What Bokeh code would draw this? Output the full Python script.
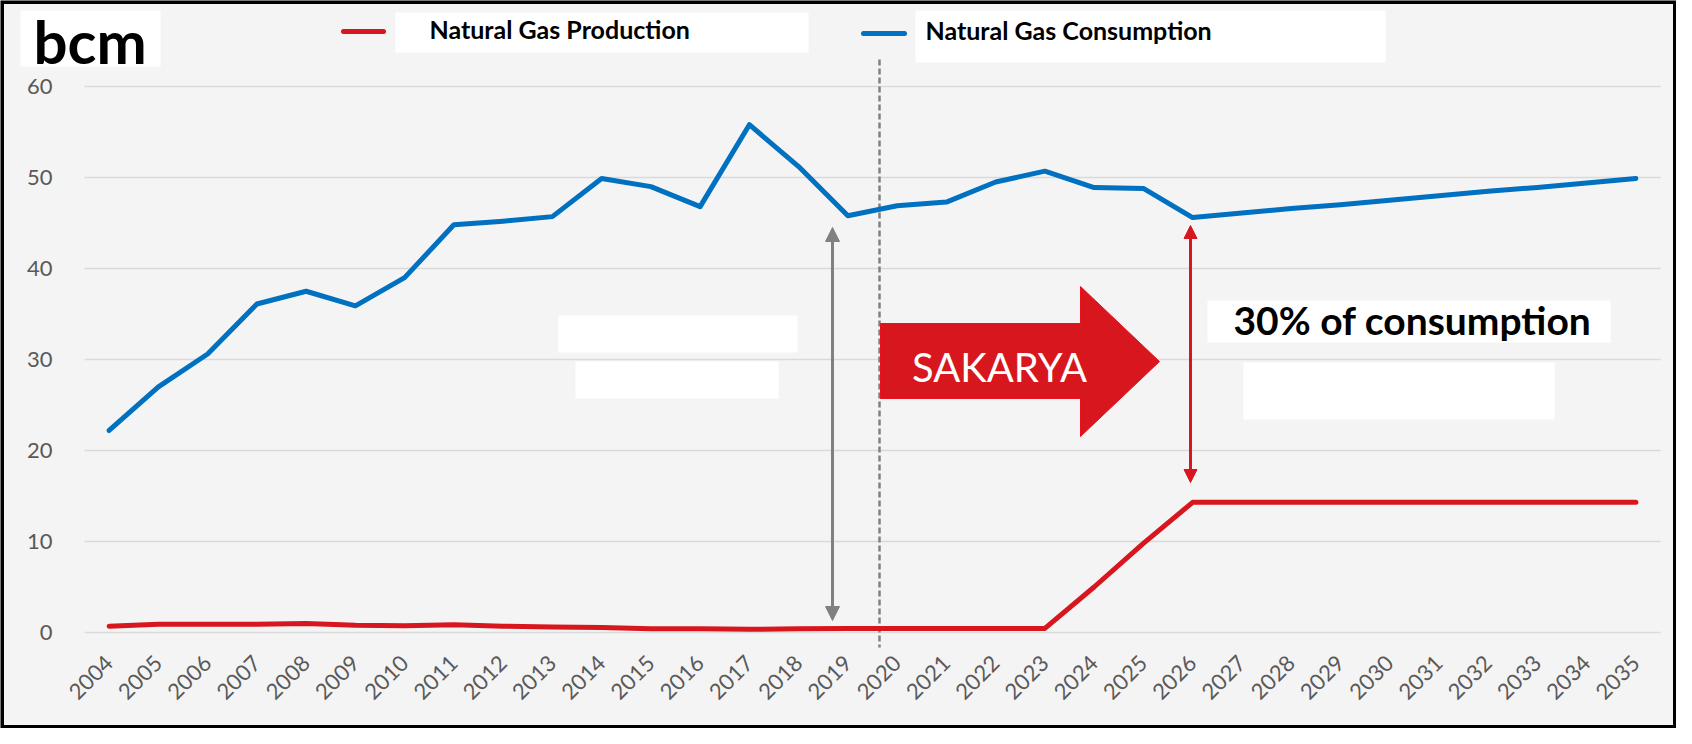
import math
from bokeh.plotting import figure
from bokeh.models import Range1d, FixedTicker, Label, Arrow, NormalHead, BoxAnnotation
from bokeh.embed import file_html
from bokeh.resources import INLINE

# ---------------- data ----------------
years = list(range(2004, 2036))
consumption = [22.2, 27.0, 30.6, 36.1, 37.5, 35.9, 39.0, 44.8, 45.2, 45.7,
               49.9, 49.0, 46.8, 55.8, 51.2, 45.8, 46.9, 47.3, 49.5, 50.7,
               48.9, 48.8, 45.6, 46.1, 46.6, 47.0, 47.5, 48.0, 48.5, 48.9,
               49.4, 49.9]
production = [0.7, 0.9, 0.9, 0.9, 1.0, 0.8, 0.75, 0.85, 0.7, 0.6,
              0.55, 0.4, 0.4, 0.35, 0.4, 0.45, 0.45, 0.45, 0.45, 0.45,
              5.0, 9.8, 14.3, 14.3, 14.3, 14.3, 14.3, 14.3, 14.3, 14.3,
              14.3, 14.3]
y_ticks = [0, 10, 20, 30, 40, 50, 60]
series_names = ["Natural Gas Production", "Natural Gas Consumption"]
unit_label = "bcm"
arrow_label = "SAKARYA"
share_label = "30% of consumption"

RED = "#D7161E"
BLUE = "#0070C0"
GRAY = "#808080"
BG = "#F4F4F4"
FONT = "Lato"

# reference-pixel -> data helpers (layout only)
def px_x(px):
    return 2003.5 + (px - 84) / 49.25

def px_y(py):
    return (632 - py) / 9.1

W, H = 1676, 728
p = figure(width=W, height=H, output_backend="svg", toolbar_location=None,
           title=None,
           x_range=Range1d(px_x(0), px_x(W)),
           y_range=Range1d(px_y(H), px_y(0)),
           min_border_left=0, min_border_right=0,
           min_border_top=0, min_border_bottom=0)
p.background_fill_color = BG
p.border_fill_color = BG
p.outline_line_color = None

# axes (drawn at the plot-area edges, inside the canvas)
p.xaxis.ticker = FixedTicker(ticks=years)
p.yaxis.ticker = FixedTicker(ticks=y_ticks)
p.xaxis.fixed_location = px_y(647)
p.yaxis.fixed_location = px_x(84)
for ax in (p.xaxis[0], p.yaxis[0]):
    ax.axis_line_color = None
    ax.major_tick_line_color = None
    ax.minor_tick_line_color = None
    ax.major_label_text_font = FONT
    ax.major_label_text_font_size = "22px"
    ax.major_label_text_color = "#595959"
p.xaxis.major_label_orientation = math.pi / 4
p.xaxis.major_label_standoff = 6
p.yaxis.major_label_standoff = 26
p.xgrid.grid_line_color = None
p.ygrid.grid_line_color = None

# horizontal gridlines spanning the plot area only
p.segment(x0=[px_x(84)] * len(y_ticks), y0=y_ticks,
          x1=[px_x(1660)] * len(y_ticks), y1=y_ticks,
          line_color="#D9D9D9", line_width=1.5)

# white "erased" blobs
blobs = [
    (20, 160, 10, 66),
    (395, 808, 12, 52),
    (915, 1385, 10, 62),
    (558, 797, 315, 352),
    (575, 778, 361, 398),
    (1207, 1610, 300, 342),
    (1243, 1554, 362, 419),
]
for l, r, t, b in blobs:
    p.add_layout(BoxAnnotation(left=px_x(l), right=px_x(r), top=px_y(t), bottom=px_y(b),
                               fill_color="white", fill_alpha=1.0, line_color=None,
                               level="underlay"))

# dashed divider
p.line([px_x(879), px_x(879)], [px_y(59), px_y(647)], line_color="#808080",
       line_width=2.5, line_dash="6 3")

# series
p.line(years, production, line_color=RED, line_width=5, line_join="round", line_cap="round")
p.line(years, consumption, line_color=BLUE, line_width=5, line_join="round", line_cap="round")

# SAKARYA block arrow
ax_ = [px_x(880), px_x(1080), px_x(1080), px_x(1159), px_x(1080), px_x(1080), px_x(880)]
ay_ = [px_y(323), px_y(323), px_y(286), px_y(361), px_y(436), px_y(398), px_y(398)]
p.patch(ax_, ay_, fill_color=RED, line_color="#E8121C", line_width=1)
p.add_layout(Label(x=px_x(999), y=px_y(366), text=arrow_label, text_font=FONT,
                   text_font_size="40px", text_color="white", text_align="center",
                   text_baseline="alphabetic"))

# double arrows
p.add_layout(Arrow(start=NormalHead(size=14, fill_color=GRAY, line_color=GRAY),
                   end=NormalHead(size=14, fill_color=GRAY, line_color=GRAY),
                   x_start=px_x(832), y_start=px_y(620), x_end=px_x(832), y_end=px_y(227),
                   line_color=GRAY, line_width=3))
p.add_layout(Arrow(start=NormalHead(size=13, fill_color=RED, line_color=RED),
                   end=NormalHead(size=13, fill_color=RED, line_color=RED),
                   x_start=px_x(1190), y_start=px_y(482), x_end=px_x(1190), y_end=px_y(225),
                   line_color=RED, line_width=3))

# 30% text
p.add_layout(Label(x=px_x(1233), y=px_y(319), text=share_label, text_font=FONT,
                   text_font_style="bold", text_font_size="39px", text_color="black",
                   text_baseline="alphabetic"))

# unit label
p.add_layout(Label(x=px_x(33), y=px_y(40), text=unit_label, text_font=FONT,
                   text_font_style="bold", text_font_size="60px", text_color="black",
                   text_baseline="alphabetic"))

# legend
p.line([px_x(343), px_x(383)], [px_y(31), px_y(31)], line_color=RED, line_width=5, line_cap="round")
p.line([px_x(863), px_x(904)], [px_y(33), px_y(33)], line_color=BLUE, line_width=5, line_cap="round")
p.add_layout(Label(x=px_x(429), y=px_y(28), text=series_names[0], text_font=FONT,
                   text_font_style="bold", text_font_size="25px", text_color="black",
                   text_baseline="alphabetic"))
p.add_layout(Label(x=px_x(925), y=px_y(29), text=series_names[1], text_font=FONT,
                   text_font_style="bold", text_font_size="25px", text_color="black",
                   text_baseline="alphabetic"))

# outer black border
p.add_layout(BoxAnnotation(left=px_x(0), right=px_x(W), top=px_y(0), bottom=px_y(H),
                           fill_alpha=0, line_color="black", line_alpha=1.0, line_width=7))

open("out.html", "w").write(file_html(p, INLINE))
